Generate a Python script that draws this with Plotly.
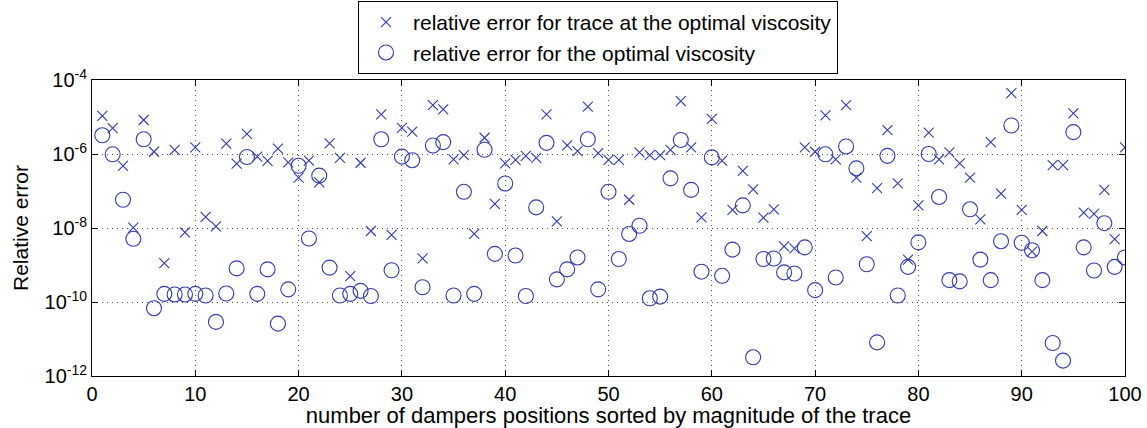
import plotly.graph_objects as go

positions = list(range(1, 101))

trace_err = [
    1.07e-5, 5.0e-6, 4.8e-7, 1.02e-8, 8.3e-6, 1.15e-6, 1.12e-9, 1.3e-6, 7.6e-9, 1.5e-6,
    2.0e-8, 1.1e-8, 1.9e-6, 5.5e-7, 3.5e-6, 8.5e-7, 6.5e-7, 1.4e-6, 5.9e-7, 2.3e-7,
    6.6e-7, 1.7e-7, 1.95e-6, 7.9e-7, 5.0e-10, 5.8e-7, 8.3e-9, 1.17e-5, 6.5e-9, 5.1e-6,
    4.0e-6, 1.5e-9, 2.1e-5, 1.6e-5, 7.2e-7, 9.3e-7, 6.9e-9, 2.75e-6, 4.5e-8, 5.6e-7,
    6.9e-7, 8.9e-7, 7.9e-7, 1.17e-5, 1.5e-8, 1.7e-6, 1.2e-6, 1.9e-5, 1.05e-6, 6.9e-7,
    6.9e-7, 5.8e-8, 1.1e-6, 9.3e-7, 9.3e-7, 1.3e-6, 2.7e-5, 1.5e-6, 1.95e-8, 8.9e-6,
    6.6e-7, 3.1e-8, 3.5e-7, 1.1e-7, 1.9e-8, 3.2e-8, 3.2e-9, 2.8e-9, 1.5e-6, 1.15e-6,
    1.1e-5, 7.2e-7, 2.1e-5, 2.3e-7, 6.0e-9, 1.2e-7, 4.4e-6, 1.6e-7, 1.4e-9, 4.1e-8,
    3.8e-6, 7.2e-7, 1.1e-6, 5.6e-7, 2.3e-7, 1.7e-8, 2.1e-6, 8.5e-8, 4.4e-5, 3.1e-8,
    2.3e-9, 8.3e-9, 5.0e-7, 5.0e-7, 1.26e-5, 2.6e-8, 2.4e-8, 1.07e-7, 5.0e-9, 1.5e-6,
]

visc_err = [
    3.2e-6, 9.8e-7, 5.8e-8, 5.1e-9, 2.5e-6, 6.8e-11, 1.66e-10, 1.6e-10, 1.6e-10, 1.66e-10,
    1.5e-10, 2.9e-11, 1.7e-10, 8.1e-10, 8.3e-7, 1.66e-10, 7.6e-10, 2.6e-11, 2.2e-10, 4.8e-7,
    5.2e-9, 2.6e-7, 8.5e-10, 1.5e-10, 1.66e-10, 2.0e-10, 1.45e-10, 2.5e-6, 7.2e-10, 8.5e-7,
    6.8e-7, 2.5e-10, 1.7e-6, 2.1e-6, 1.5e-10, 9.5e-8, 1.66e-10, 1.3e-6, 2.0e-9, 1.6e-7,
    1.8e-9, 1.45e-10, 3.6e-8, 2.0e-6, 4.1e-10, 7.6e-10, 1.6e-9, 2.5e-6, 2.2e-10, 9.5e-8,
    1.45e-9, 6.9e-9, 1.15e-8, 1.26e-10, 1.4e-10, 2.2e-7, 2.4e-6, 1.07e-7, 6.6e-10, 8.1e-7,
    5.1e-10, 2.6e-9, 4.1e-8, 3.2e-12, 1.45e-9, 1.5e-9, 6.3e-10, 5.9e-10, 3.0e-9, 2.1e-10,
    9.8e-7, 4.6e-10, 1.6e-6, 4.1e-7, 1.05e-9, 8.1e-12, 8.9e-7, 1.5e-10, 8.9e-10, 4.1e-9,
    1.0e-6, 6.9e-8, 3.9e-10, 3.6e-10, 3.2e-8, 1.4e-9, 3.9e-10, 4.4e-9, 5.9e-6, 4.0e-9,
    2.5e-9, 3.9e-10, 7.8e-12, 2.6e-12, 3.9e-6, 3.0e-9, 7.1e-10, 1.35e-8, 8.9e-10, 1.6e-9,
]

x_ticks = [0, 10, 20, 30, 40, 50, 60, 70, 80, 90, 100]
y_ticks = [1e-12, 1e-10, 1e-8, 1e-6, 1e-4]
y_ticktext = ["10<sup>-12</sup>", "10<sup>-10</sup>", "10<sup>-8</sup>", "10<sup>-6</sup>", "10<sup>-4</sup>"]

color = "rgb(50,58,172)"
font_family = "Liberation Sans, Arial, Helvetica, sans-serif"

fig = go.Figure()
fig.add_trace(go.Scatter(
    x=positions, y=trace_err, mode="markers",
    name="relative error for trace at the optimal viscosity",
    marker=dict(symbol="x-thin-open", size=10, color=color, line=dict(width=1.1, color=color)),
))
fig.add_trace(go.Scatter(
    x=positions, y=visc_err, mode="markers",
    name="relative error for the optimal viscosity",
    marker=dict(symbol="circle-open", size=15, color=color, line=dict(width=1.1, color=color)),
))

fig.update_layout(
    width=1147, height=428,
    margin=dict(l=92, r=22, t=80, b=52, autoexpand=False),
    paper_bgcolor="white", plot_bgcolor="white",
    font=dict(family=font_family, size=19, color="black"),
    showlegend=True,
    legend=dict(
        x=0.2575, y=1.1436, xanchor="left", yanchor="middle",
        bgcolor="white", bordercolor="black", borderwidth=1,
        font=dict(size=21, family=font_family), tracegroupgap=0,
        itemwidth=44,
    ),
)

grid_dash = "1px,4px"
fig.update_xaxes(
    range=[0, 100], tickvals=x_ticks, ticks="inside", ticklen=6, tickcolor="black",
    showline=True, linecolor="black", linewidth=1, mirror="ticks",
    showgrid=True, gridcolor="#555", griddash=grid_dash, gridwidth=1,
    zeroline=False, tickfont=dict(size=20), automargin=False,
    title=dict(text="number of dampers positions sorted by magnitude of the trace", font=dict(size=22), standoff=2),
)
fig.update_yaxes(
    type="log", range=[-12, -4], tickvals=y_ticks, ticktext=y_ticktext,
    ticks="inside", ticklen=6, tickcolor="black",
    showline=True, linecolor="black", linewidth=1, mirror="ticks",
    showgrid=True, gridcolor="#555", griddash=grid_dash, gridwidth=1,
    zeroline=False, tickfont=dict(size=20), automargin=False,
    title=dict(text="Relative error", font=dict(size=21), standoff=10),
)

fig.write_html(
    "out.html",
    config={"displayModeBar": False},
    post_script="document.body.style.margin='0';document.body.style.overflow='hidden';",
)
